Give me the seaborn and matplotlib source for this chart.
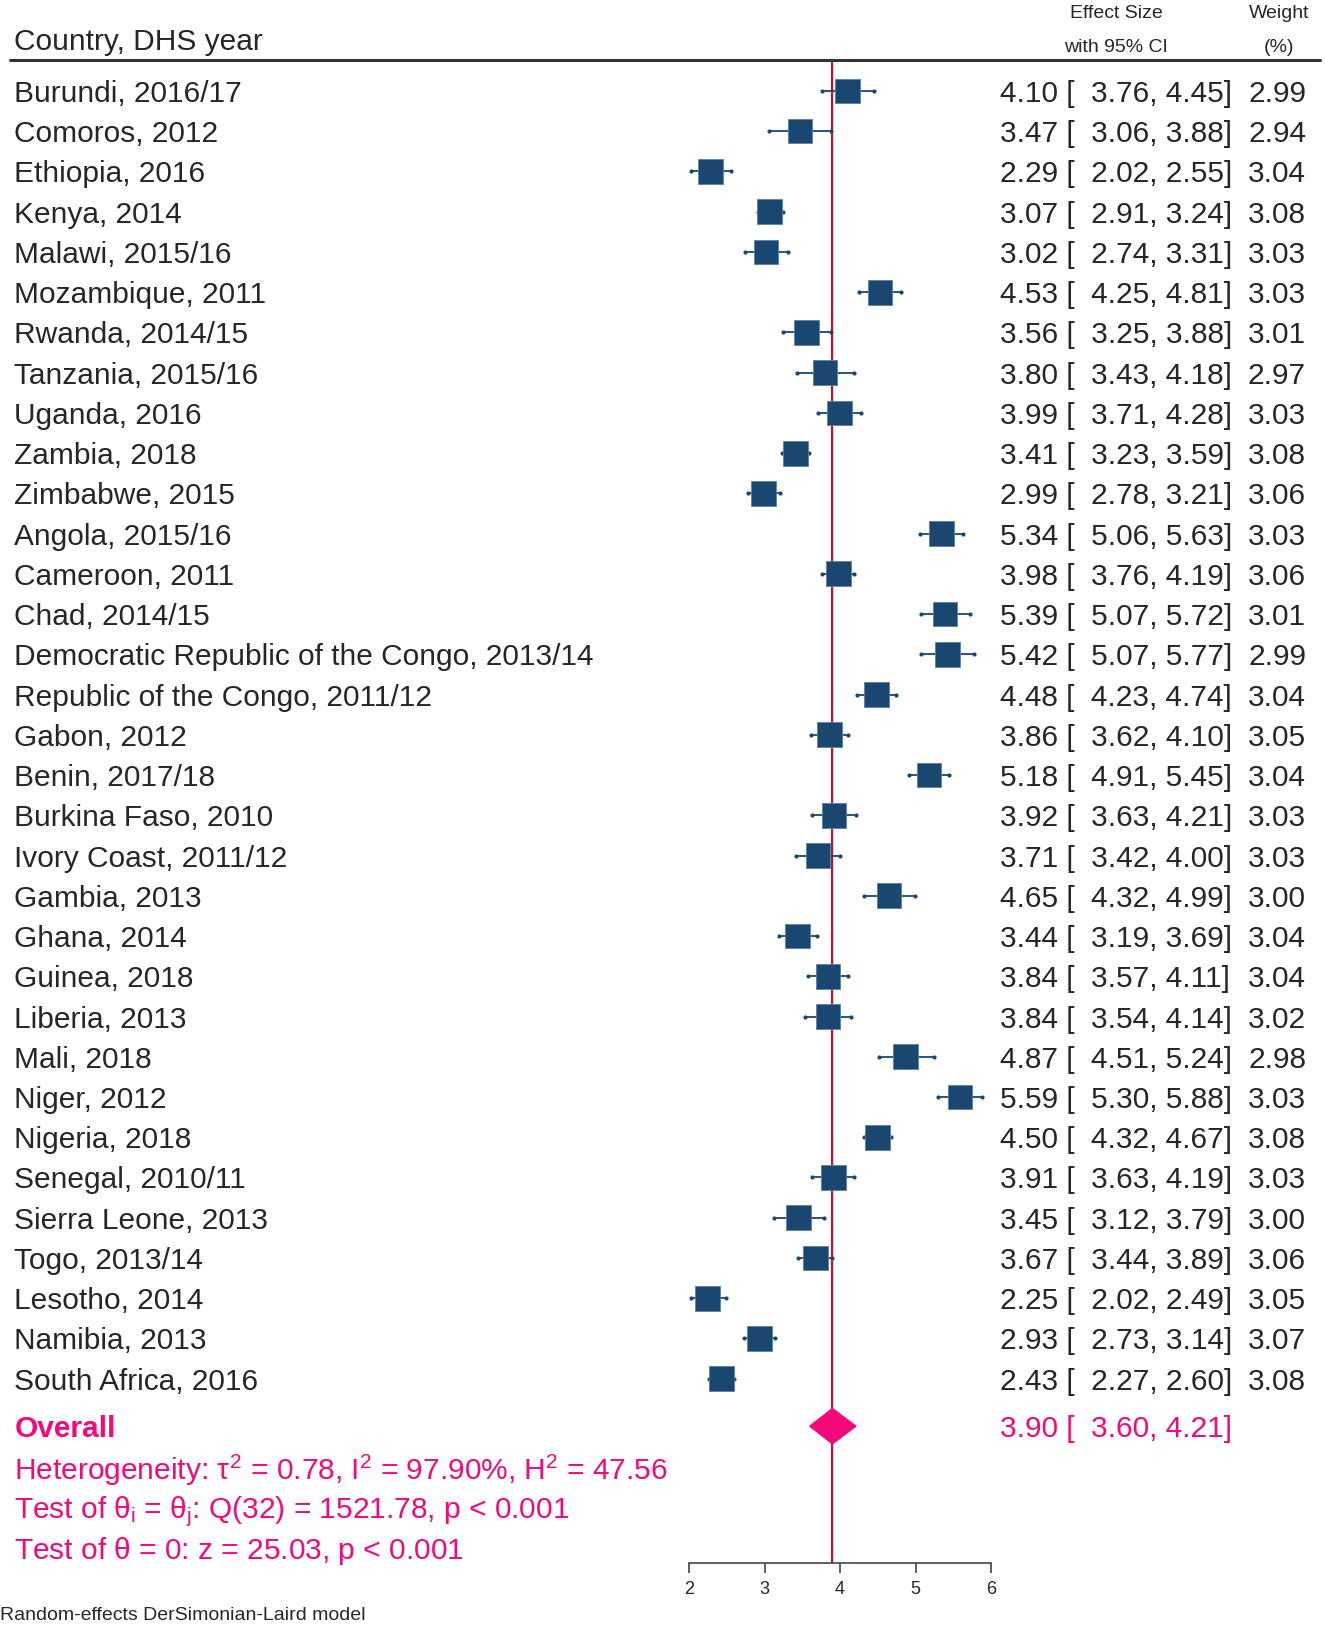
import numpy as np
import pandas as pd
import seaborn as sns
import matplotlib.pyplot as plt
from matplotlib.lines import Line2D
from matplotlib.patches import Polygon
from matplotlib.transforms import blended_transform_factory

# Study-level data (effect size with 95% CI, weight in %)
countries = [
    'Burundi, 2016/17', 'Comoros, 2012', 'Ethiopia, 2016', 'Kenya, 2014',
    'Malawi, 2015/16', 'Mozambique, 2011', 'Rwanda, 2014/15', 'Tanzania, 2015/16',
    'Uganda, 2016', 'Zambia, 2018', 'Zimbabwe, 2015', 'Angola, 2015/16',
    'Cameroon, 2011', 'Chad, 2014/15', 'Democratic Republic of the Congo, 2013/14',
    'Republic of the Congo, 2011/12', 'Gabon, 2012', 'Benin, 2017/18',
    'Burkina Faso, 2010', 'Ivory Coast, 2011/12', 'Gambia, 2013', 'Ghana, 2014',
    'Guinea, 2018', 'Liberia, 2013', 'Mali, 2018', 'Niger, 2012', 'Nigeria, 2018',
    'Senegal, 2010/11', 'Sierra Leone, 2013', 'Togo, 2013/14', 'Lesotho, 2014',
    'Namibia, 2013', 'South Africa, 2016',
]
effect = [4.10, 3.47, 2.29, 3.07, 3.02, 4.53, 3.56, 3.80, 3.99, 3.41, 2.99,
          5.34, 3.98, 5.39, 5.42, 4.48, 3.86, 5.18, 3.92, 3.71, 4.65, 3.44,
          3.84, 3.84, 4.87, 5.59, 4.50, 3.91, 3.45, 3.67, 2.25, 2.93, 2.43]
ci_low = [3.76, 3.06, 2.02, 2.91, 2.74, 4.25, 3.25, 3.43, 3.71, 3.23, 2.78,
          5.06, 3.76, 5.07, 5.07, 4.23, 3.62, 4.91, 3.63, 3.42, 4.32, 3.19,
          3.57, 3.54, 4.51, 5.30, 4.32, 3.63, 3.12, 3.44, 2.02, 2.73, 2.27]
ci_high = [4.45, 3.88, 2.55, 3.24, 3.31, 4.81, 3.88, 4.18, 4.28, 3.59, 3.21,
           5.63, 4.19, 5.72, 5.77, 4.74, 4.10, 5.45, 4.21, 4.00, 4.99, 3.69,
           4.11, 4.14, 5.24, 5.88, 4.67, 4.19, 3.79, 3.89, 2.49, 3.14, 2.60]
weight = [2.99, 2.94, 3.04, 3.08, 3.03, 3.03, 3.01, 2.97, 3.03, 3.08, 3.06,
          3.03, 3.06, 3.01, 2.99, 3.04, 3.05, 3.04, 3.03, 3.03, 3.00, 3.04,
          3.04, 3.02, 2.98, 3.03, 3.08, 3.03, 3.00, 3.06, 3.05, 3.07, 3.08]

overall = [3.90, 3.60, 4.21]
stats_lines = [
    r'Heterogeneity: $\tau^2$ = 0.78, I$^2$ = 97.90%, H$^2$ = 47.56',
    r'Test of $\theta_i$ = $\theta_j$: Q(32) = 1521.78, p < 0.001',
    r'Test of $\theta$ = 0: z = 25.03, p < 0.001',
]
xticks = [2, 3, 4, 5, 6]

df = pd.DataFrame({'country': countries, 'es': effect, 'lo': ci_low,
                   'hi': ci_high, 'w': weight})
df['row'] = np.arange(len(df))

navy = '#1a476f'
pink = '#f5087a'
redline = '#c8102e'

sns.set_theme(style='white')
plt.rcParams['font.family'] = ['Liberation Sans', 'DejaVu Sans']
plt.rcParams['mathtext.fontset'] = 'custom'
plt.rcParams['mathtext.rm'] = 'Liberation Sans'
plt.rcParams['mathtext.it'] = 'Liberation Sans'

W, H = 1325, 1625
FS = 21.5
fig = plt.figure(figsize=(W / 100, H / 100), dpi=100)
ax = fig.add_axes([689 / W, 1 - 1563 / H, 302 / W, (1563 - 60) / H])

row_overall = len(df) + 0.18
ax.set_xlim(2, 6)
ax.set_ylim(36.58, -0.77)

# Confidence intervals and weighted squares
ax.hlines(df['row'], df['lo'], df['hi'], color=navy, lw=1.3, zorder=2)
ax.scatter(df['lo'], df['row'], s=4, color=navy, zorder=2)
ax.scatter(df['hi'], df['row'], s=4, color=navy, zorder=2)
sns.scatterplot(data=df, x='es', y='row', size='w', sizes=(0, 3.08 * 105),
                size_norm=(0, 3.08), marker='s', color=navy,
                edgecolor='#5b7fa3', linewidth=0.6, legend=False, ax=ax,
                zorder=3, clip_on=False)

# Overall effect: line and diamond
ax.axvline(overall[0], color=redline, lw=1.6, zorder=1)
dh = 0.44
ax.add_patch(Polygon([(overall[1], row_overall), (overall[0], row_overall - dh),
                      (overall[2], row_overall), (overall[0], row_overall + dh)],
                     closed=True, color=pink, zorder=4))

ax.set_xticks(xticks)
ax.set_xticklabels([str(t) for t in xticks], fontsize=13)
ax.set_yticks([])
ax.set_xlabel('')
ax.set_ylabel('')
for s in ['left', 'right', 'top']:
    ax.spines[s].set_visible(False)
ax.spines['bottom'].set_color('#444444')
ax.spines['bottom'].set_linewidth(1.2)
ax.tick_params(axis='x', bottom=True, direction='out', length=7, width=1.2,
               color='#444444', pad=6)

# Text columns
trans = blended_transform_factory(fig.transFigure, ax.transData)
x_lab = 14.5 / W
x_es = 1000 / W
x_w = 1306 / W
va = 'center_baseline'
for _, r in df.iterrows():
    ax.text(x_lab, r['row'], r['country'], transform=trans, fontsize=FS,
            va=va, ha='left')
    ax.text(x_es, r['row'], f"{r['es']:.2f} [  {r['lo']:.2f}, {r['hi']:.2f}]",
            transform=trans, fontsize=FS, va=va, ha='left')
    ax.text(x_w, r['row'], f"{r['w']:.2f}", transform=trans, fontsize=FS,
            va=va, ha='right')

ax.text(x_lab, row_overall, 'Overall', transform=trans, fontsize=FS,
        fontweight='bold', color=pink, va=va, ha='left')
ax.text(x_es, row_overall,
        f"{overall[0]:.2f} [  {overall[1]:.2f}, {overall[2]:.2f}]",
        transform=trans, fontsize=FS, color=pink, va=va, ha='left')
for i, line in enumerate(stats_lines):
    ax.text(x_lab, row_overall + 1 + i, line, transform=trans, fontsize=FS,
            color=pink, va=va, ha='left')

# Header
fig.text(x_lab, 1 - 39 / H, 'Country, DHS year', fontsize=FS, va=va, ha='left')
fig.text(1116 / W, 1 - 11 / H, 'Effect Size', fontsize=14, va=va, ha='center')
fig.text(1116 / W, 1 - 45 / H, 'with 95% CI', fontsize=14, va=va, ha='center')
fig.text(1279 / W, 1 - 11 / H, 'Weight', fontsize=14, va=va, ha='center')
fig.text(1279 / W, 1 - 45 / H, '(%)', fontsize=14, va=va, ha='center')
fig.add_artist(Line2D([10 / W, 1320 / W], [1 - 60 / H, 1 - 60 / H],
                      color='#333333', lw=2.2, transform=fig.transFigure))

fig.text(0.5 / W, 1 - 1613 / H, 'Random-effects DerSimonian-Laird model',
         fontsize=14, va=va, ha='left')

fig.savefig('out.png', dpi=100)
